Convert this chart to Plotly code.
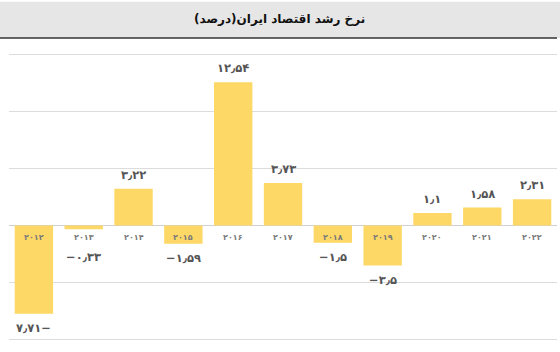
import plotly.graph_objects as go

years = ["۲۰۱۲", "۲۰۱۳", "۲۰۱۴", "۲۰۱۵", "۲۰۱۶", "۲۰۱۷", "۲۰۱۸", "۲۰۱۹", "۲۰۲۰", "۲۰۲۱", "۲۰۲۲"]
values = [-7.71, -0.33, 3.22, -1.59, 12.54, 3.73, -1.5, -3.5, 1.1, 1.58, 2.31]
value_labels = ["۷٫۷۱−", "−۰٫۳۳", "۳٫۲۲", "−۱٫۵۹", "۱۲٫۵۴", "۳٫۷۳", "−۱٫۵", "−۳٫۵", "۱٫۱", "۱٫۵۸", "۲٫۳۱"]
title_text = "نرخ رشد اقتصاد ایران(درصد)"

BAR = "#FDD866"
FONT = "DejaVu Sans"

fig = go.Figure()
fig.add_trace(go.Bar(x=years, y=values, marker=dict(color=BAR, line=dict(width=0)),
                     hoverinfo="skip"))

annotations = []
for yr, v, lab in zip(years, values, value_labels):
    shift = 14 if v > 0 else -14
    if -1 < v < 0:
        shift = -28
    annotations.append(dict(x=yr, y=v, xref="x", yref="y", text="<b>%s</b>" % lab,
                            showarrow=False, yshift=shift, yanchor="middle",
                            font=dict(family=FONT, size=11.5, color="#555555")))
    annotations.append(dict(x=yr, y=0, xref="x", yref="y", text="<b>%s</b>" % yr,
                            showarrow=False, yshift=-12, yanchor="middle",
                            font=dict(family=FONT, size=8, color="#7a7a7a")))

# Title
annotations.append(dict(x=0.4945, y=1.119, xref="paper", yref="paper",
                        text="<b>%s</b>" % title_text, showarrow=False,
                        xanchor="center", yanchor="middle",
                        font=dict(family=FONT, size=12, color="#111111")))

shapes = [
    dict(type="rect", xref="paper", yref="paper", x0=-0.02, x1=1.01, y0=1.052, y1=1.178,
         fillcolor="#e6e6e6", line=dict(width=0), layer="below"),
    dict(type="line", xref="paper", yref="paper", x0=-0.02, x1=1.0, y0=1.052, y1=1.052,
         line=dict(color="#333333", width=1.5)),
]

fig.update_layout(
    width=560, height=352,
    margin=dict(l=9, r=3, t=53, b=11),
    paper_bgcolor="white", plot_bgcolor="white",
    bargap=0.23,
    showlegend=False,
    annotations=annotations,
    shapes=shapes,
    xaxis=dict(showticklabels=False, showgrid=False, zeroline=False, ticks=""),
    yaxis=dict(range=[-10.1, 15.1], dtick=5, tick0=0, showticklabels=False,
               gridcolor="#dcdcdc", gridwidth=1, zeroline=True,
               zerolinecolor="#d0d0d0", zerolinewidth=1, ticks=""),
)

fig.write_html("out.html")
